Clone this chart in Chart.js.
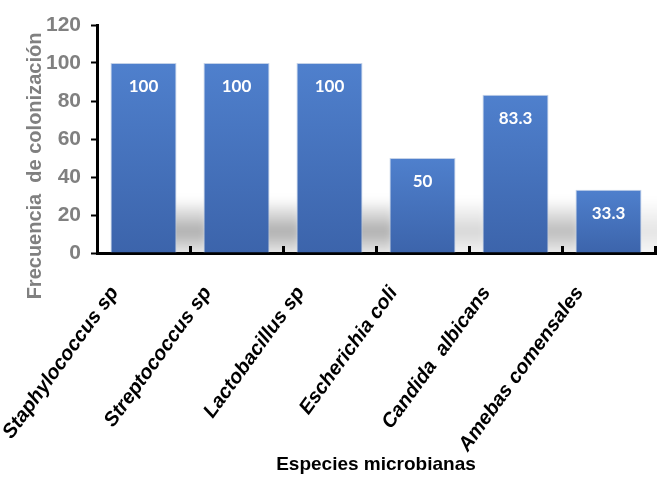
<!DOCTYPE html>
<html lang="es">
<head>
    <meta charset="UTF-8">
    <title>Frecuencia de colonización por especie</title>
    <script src="https://cdn.jsdelivr.net/npm/chart.js"></script>
    <style>
        * { margin: 0; padding: 0; box-sizing: border-box; }
        body { background: #fff; width: 657px; height: 477px; overflow: hidden; }
        #wrap { position: relative; width: 657px; height: 477px; }
    </style>
</head>
<body>
    <div id="wrap"><canvas id="myChart"></canvas></div>

    <script>
        // Datos
        const especies = ['Staphylococcus sp', 'Streptococcus sp', 'Lactobacillus sp', 'Escherichia coli', 'Candida  albicans', 'Amebas comensales'];
        const frecuencia = [100, 100, 100, 50, 83.3, 33.3];
        const yMin = 0;
        const yMax = 120;
        const yStep = 20;

        const tituloY = 'Frecuencia  de colonización';
        const tituloX = 'Especies microbianas';

        const grey = '#808080';

        // blue gradient, per bar, from its top down to the base
        function barFill(context) {
            const chart = context.chart;
            const area = chart.chartArea;
            if (!area || context.type !== 'data') return '#4472c4';
            const yScale = chart.scales.y;
            const top = yScale.getPixelForValue(context.raw);
            const g = chart.ctx.createLinearGradient(0, top, 0, area.bottom);
            g.addColorStop(0, '#4f80cd');
            g.addColorStop(1, '#3c64ab');
            return g;
        }

        // soft grey shadow cast to the right of each bar
        const barShadow = {
            id: 'barShadow',
            beforeDatasetsDraw(chart) {
                const { ctx, chartArea } = chart;
                const meta = chart.getDatasetMeta(0);
                const base = chartArea.bottom;
                ctx.save();
                ctx.beginPath();
                ctx.rect(chartArea.left + 2, chartArea.top, chartArea.right - chartArea.left + 2, base - chartArea.top - 1);
                ctx.clip();
                ctx.filter = 'blur(5px)';
                meta.data.forEach((bar, i) => {
                    const a = 0.32 * frecuencia[i] / 100;
                    const right = bar.x + bar.width / 2;
                    const g = ctx.createLinearGradient(0, base - 54, 0, base);
                    g.addColorStop(0, 'rgba(0,0,0,0)');
                    g.addColorStop(0.6, `rgba(0,0,0,${a})`);
                    g.addColorStop(1, `rgba(0,0,0,${a * 0.3})`);
                    ctx.fillStyle = g;
                    ctx.fillRect(right - 20, base - 54, 52, 58);
                });
                ctx.restore();
            }
        };

        // value written inside the top of each bar
        const barValues = {
            id: 'barValues',
            afterDatasetsDraw(chart) {
                const { ctx } = chart;
                const meta = chart.getDatasetMeta(0);
                ctx.save();
                ctx.fillStyle = '#ffffff';
                ctx.font = 'bold 17px Lato, "Open Sans", sans-serif';
                ctx.textAlign = 'center';
                ctx.textBaseline = 'middle';
                meta.data.forEach((bar, i) => {
                    ctx.fillText(String(frecuencia[i]), bar.x, bar.y + 24);
                });
                ctx.restore();
            }
        };

        // y title, vertical, a bit below the middle of the axis
        const yTitle = {
            id: 'yTitle',
            afterDraw(chart) {
                const { ctx, chartArea } = chart;
                ctx.save();
                ctx.translate(41, chartArea.bottom - 87);
                ctx.rotate(-Math.PI / 2);
                ctx.fillStyle = grey;
                ctx.font = 'bold 20px "Liberation Sans", Arial, sans-serif';
                ctx.textAlign = 'center';
                ctx.textBaseline = 'alphabetic';
                ctx.fillText(tituloY, 0, 0);
                ctx.restore();
            }
        };

        const ctx = document.getElementById('myChart').getContext('2d');

        const chart = new Chart(ctx, {
            type: 'bar',
            data: {
                labels: especies,
                datasets: [{
                    data: frecuencia,
                    backgroundColor: barFill,
                    borderColor: 'rgba(190,205,230,0.9)',
                    borderWidth: 1,
                    categoryPercentage: 1,
                    barPercentage: 0.71
                }]
            },
            options: {
                responsive: true,
                maintainAspectRatio: false,
                animation: false,
                layout: { padding: { top: 25, right: 2, bottom: 0, left: 0 } },
                plugins: {
                    legend: { display: false },
                    tooltip: { enabled: false }
                },
                scales: {
                    x: {
                        afterFit(scale) {
                            scale.height = 224;
                            scale.paddingLeft = 0;
                            scale.paddingRight = 0;
                        },
                        border: { display: true, color: '#000', width: 3 },
                        grid: {
                            display: true,
                            drawOnChartArea: false,
                            drawTicks: true,
                            tickLength: -7,
                            tickWidth: 3,
                            tickColor: '#000',
                            offset: true
                        },
                        ticks: {
                            color: '#000',
                            font: { family: '"Liberation Sans", Arial, sans-serif', size: 20, weight: 'bold', style: 'italic' },
                            minRotation: 54,
                            maxRotation: 54,
                            autoSkip: false,
                            padding: 36,
                            labelOffset: -29
                        },
                        title: {
                            display: true,
                            text: tituloX,
                            color: '#000',
                            font: { family: '"Liberation Sans", Arial, sans-serif', size: 19, weight: 'bold' },
                            padding: { top: 0, bottom: 1 }
                        }
                    },
                    y: {
                        min: yMin,
                        max: yMax,
                        afterFit(scale) { scale.width = 97; },
                        border: { display: true, color: '#000', width: 3 },
                        grid: {
                            display: true,
                            drawOnChartArea: false,
                            drawTicks: true,
                            tickLength: 6,
                            tickWidth: 2,
                            tickColor: '#000'
                        },
                        ticks: {
                            stepSize: yStep,
                            color: grey,
                            padding: 10,
                            font: { family: '"Liberation Sans", Arial, sans-serif', size: 21, weight: 'bold' }
                        }
                    }
                }
            },
            plugins: [barShadow, barValues, yTitle]
        });
    </script>
</body>
</html>
